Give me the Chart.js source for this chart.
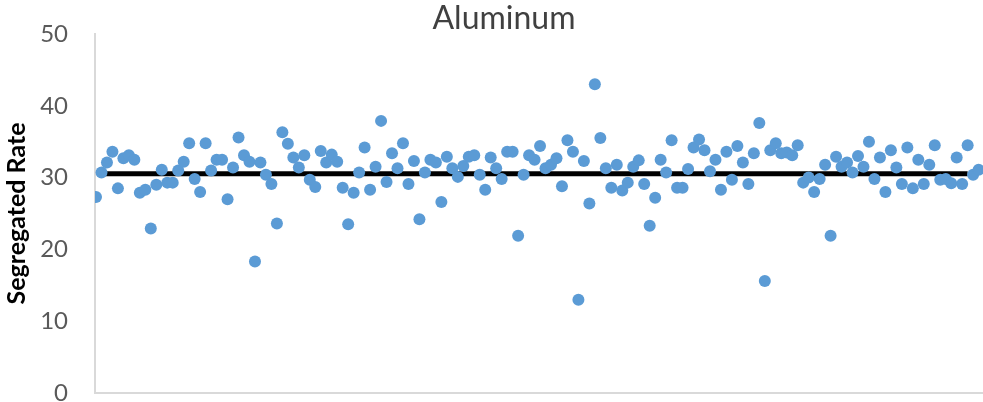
<!DOCTYPE html>
<html><head><meta charset="utf-8">
<script src="https://cdn.jsdelivr.net/npm/chart.js@4"></script>
<style>html,body{margin:0;padding:0;background:#fff}</style>
</head><body>
<canvas id="c" width="983" height="402"></canvas>
<script>
const chartTitle = 'Aluminum';
const yAxisTitle = 'Segregated Rate';
const segregatedRate = [
27.3,30.7,32.1,33.6,28.5,32.7,33.1,32.5,27.9,28.3,
22.9,29.0,31.1,29.3,29.3,31.0,32.2,34.8,29.8,28.0,
34.8,31.0,32.5,32.5,27.0,31.4,35.6,33.1,32.2,18.3,
32.1,30.4,29.1,23.6,36.3,34.7,32.8,31.4,33.1,29.7,
28.7,33.7,32.1,33.2,32.2,28.6,23.5,27.9,30.7,34.2,
28.3,31.5,37.9,29.4,33.4,31.3,34.8,29.1,32.3,24.2,
30.7,32.5,32.1,26.6,32.9,31.3,30.1,31.6,32.9,33.1,
30.4,28.3,32.8,31.3,29.8,33.6,33.6,21.9,30.4,33.1,
32.5,34.4,31.3,31.8,32.7,28.8,35.2,33.6,13.0,32.3,
26.4,43.0,35.5,31.3,28.6,31.8,28.2,29.3,31.5,32.4,
29.1,23.3,27.2,32.5,30.7,35.2,28.6,28.6,31.2,34.2,
35.3,33.8,30.9,32.5,28.3,33.6,29.7,34.4,32.1,29.1,
33.4,37.6,15.6,33.8,34.8,33.4,33.5,33.1,34.5,29.3,
30.0,28.0,29.8,31.8,21.9,32.9,31.5,32.1,30.7,33.0,
31.5,35.0,29.8,32.8,28.0,33.8,31.4,29.1,34.2,28.5,
32.5,29.1,31.8,34.5,29.7,29.8,29.2,32.8,29.1,34.5,
30.4,31.1];
const sampleIndex = segregatedRate.map((v, i) => i + 1);
const meanRate = 30.55;
const meanLineSamples = [2, 160];
const yTickValues = [0, 10, 20, 30, 40, 50];

const scatterPoints = segregatedRate.map((v, i) => ({x: sampleIndex[i], y: v}));
const meanPoints = meanLineSamples.map(s => ({x: s, y: meanRate}));

const titlePlugin = {
  id: 'offsetTitle',
  afterDraw(chart) {
    const ctx = chart.ctx;
    ctx.save();
    ctx.font = '32px Lato';
    ctx.fillStyle = '#404040';
    ctx.textAlign = 'center';
    ctx.textBaseline = 'alphabetic';
    ctx.fillText(chartTitle, 504, 29);
    ctx.restore();
  }
};

new Chart(document.getElementById('c'), {
  data: {
    datasets: [
      {type: 'scatter', data: scatterPoints, backgroundColor: '#5B9BD5', borderWidth: 0,
       pointRadius: 6, pointHoverRadius: 6, order: 1},
      {type: 'line', data: meanPoints, borderColor: '#000000', borderWidth: 5,
       borderCapStyle: 'butt', pointRadius: 0, fill: false, order: 2}
    ]
  },
  options: {
    responsive: false,
    animation: false,
    devicePixelRatio: 1,
    events: [],
    layout: {autoPadding: false, padding: {top: 34, bottom: 9, left: 0, right: 0}},
    plugins: {legend: {display: false}, tooltip: {enabled: false}, title: {display: false}},
    scales: {
      x: {
        type: 'linear', min: 0.82, max: 162.8,
        ticks: {display: false},
        grid: {display: false, drawTicks: false},
        border: {display: true, color: '#d9d9d9', width: 2}
      },
      y: {
        min: 0, max: 50,
        afterBuildTicks: (axis) => { axis.ticks = yTickValues.map(v => ({value: v})); },
        afterFit: (axis) => { axis.width = 95; },
        ticks: {font: {family: 'Lato', size: 24, lineHeight: 0.6}, color: '#595959', padding: 0},
        grid: {display: true, drawOnChartArea: false, drawTicks: true, tickLength: 27,
               color: 'rgba(0,0,0,0)', tickColor: 'rgba(0,0,0,0)'},
        border: {display: true, color: '#d9d9d9', width: 2},
        title: {display: true, text: yAxisTitle, color: '#000000',
                font: {family: 'Lato', size: 25, weight: 'bold'}, padding: {top: 2, bottom: 0}}
      }
    }
  },
  plugins: [titlePlugin]
});
</script>
</body></html>
